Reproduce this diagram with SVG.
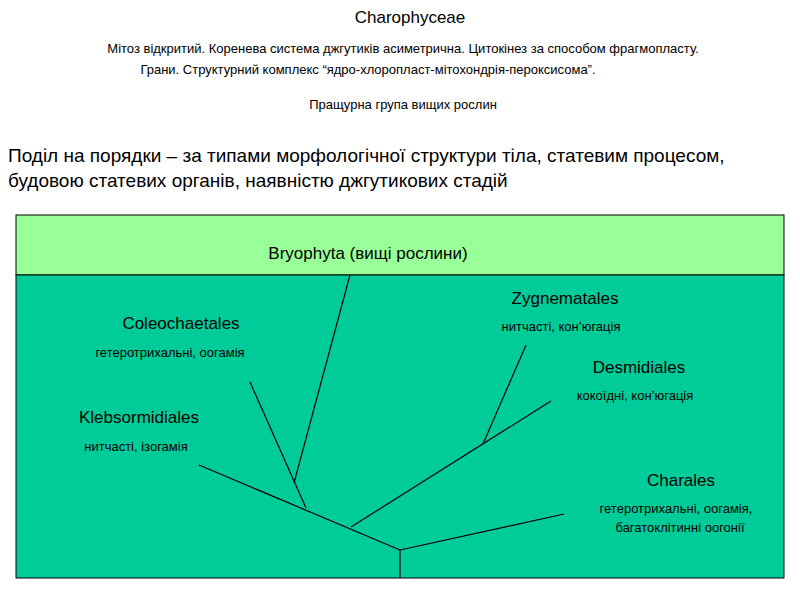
<svg xmlns="http://www.w3.org/2000/svg" width="800" height="600" viewBox="0 0 800 600">
<style>
text{font-family:"Liberation Sans",Arial,sans-serif;fill:#000}
.h{font-size:17px}.s{font-size:13px}.b{font-size:19px}
.e{stroke:#000;stroke-width:1.2;fill:none}
</style>
<rect width="800" height="600" fill="#fff"/>
<text x="410" y="23" text-anchor="middle" class="h">Charophyceae</text>
<text x="403" y="53" text-anchor="middle" class="s">Мітоз відкритий. Коренева система джгутиків асиметрична. Цитокінез за способом фрагмопласту.</text>
<text x="368" y="74" text-anchor="middle" class="s">Грани. Структурний комплекс “ядро-хлоропласт-мітохондрія-пероксисома”.</text>
<text x="403" y="109" text-anchor="middle" class="s">Пращурна група вищих рослин</text>
<text x="8" y="162" class="b">Поділ на порядки – за типами морфологічної структури тіла, статевим процесом,</text>
<text x="8" y="187" class="b">будовою статевих органів, наявністю джгутикових стадій</text>
<g id="bryophyta"><rect x="16" y="215" width="768" height="60" fill="#99ff99" stroke="#000"/>
<text x="368" y="259" text-anchor="middle" class="h">Bryophyta (вищі рослини)</text></g>
<rect x="16" y="275" width="768" height="303" fill="#00cc99" stroke="#000"/>
<g id="connectors" class="e">
<line x1="400" y1="578" x2="400" y2="550"/>
<line x1="400" y1="550" x2="199" y2="465"/>
<line x1="400" y1="550" x2="564" y2="514"/>
<line x1="351" y1="527" x2="551" y2="401"/>
<line x1="483" y1="444" x2="526" y2="345"/>
<line x1="306" y1="508" x2="250" y2="382"/>
<line x1="294" y1="483" x2="350" y2="275"/>
</g>
<g id="coleochaetales"><text x="181" y="329" text-anchor="middle" class="h">Coleochaetales</text><text x="170" y="357" text-anchor="middle" class="s">гетеротрихальні, оогамія</text></g>
<g id="klebsormidiales"><text x="139" y="423" text-anchor="middle" class="h">Klebsormidiales</text><text x="136" y="451" text-anchor="middle" class="s">нитчасті, ізогамія</text></g>
<g id="zygnematales"><text x="565" y="304" text-anchor="middle" class="h">Zygnematales</text><text x="561" y="331" text-anchor="middle" class="s">нитчасті, кон’югація</text></g>
<g id="desmidiales"><text x="639" y="373" text-anchor="middle" class="h">Desmidiales</text><text x="635" y="400" text-anchor="middle" class="s">кокоїдні, кон’югація</text></g>
<g id="charales"><text x="681" y="486" text-anchor="middle" class="h">Charales</text><text x="676" y="513" text-anchor="middle" class="s">гетеротрихальні, оогамія,</text><text x="680" y="532" text-anchor="middle" class="s">багатоклітинні оогонії</text></g>
</svg>
